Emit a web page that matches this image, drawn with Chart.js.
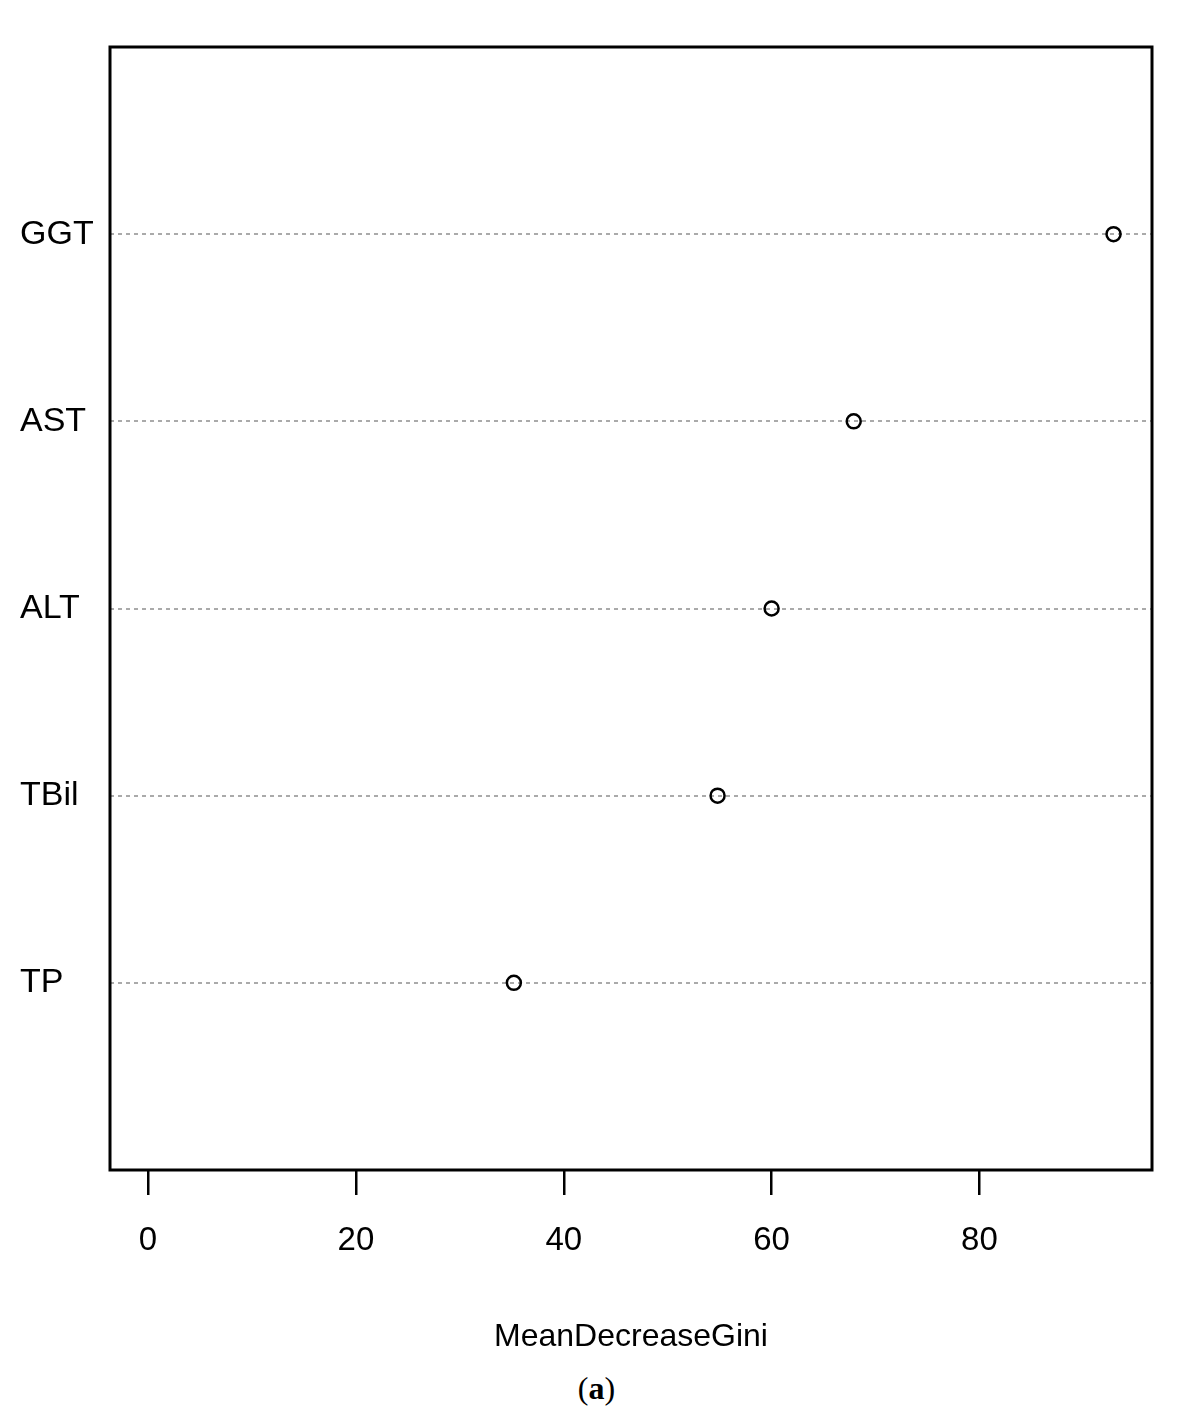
<!DOCTYPE html>
<html><head><meta charset="utf-8">
<script src="https://cdn.jsdelivr.net/npm/chart.js@4/dist/chart.umd.min.js"></script>
<style>
body{margin:0;background:#fff;}
#wrap{width:1193px;height:1360px;}
#cap{text-align:center;font-family:"Liberation Serif",serif;font-size:32px;margin-top:10px;}
</style></head><body>
<div id="wrap"><canvas id="c"></canvas></div>
<div id="cap">(<b>a</b>)</div>
<script>
const variables = ['TP', 'TBil', 'ALT', 'AST', 'GGT'];
const giniValues = [35.2, 54.8, 60.0, 67.9, 92.9];
const xTicks = [0, 20, 40, 60, 80];

const boxPlugin = {
  id: 'box',
  afterDraw(chart) {
    const a = chart.chartArea, g = chart.ctx;
    g.save();
    g.strokeStyle = '#000';
    g.lineWidth = 3;
    g.strokeRect(a.left, a.top, a.right - a.left, a.bottom - a.top);
    g.restore();
  }
};

new Chart(document.getElementById('c'), {
  type: 'scatter',
  data: {
    datasets: [{
      data: variables.map((v, i) => ({ x: giniValues[i], y: i + 1 })),
      pointRadius: 7,
      pointBorderWidth: 2.5,
      pointBorderColor: '#000',
      pointBackgroundColor: 'rgba(0,0,0,0)'
    }]
  },
  options: {
    responsive: true,
    maintainAspectRatio: false,
    animation: false,
    layout: { padding: { top: 47, right: 41, left: 20, bottom: 0 } },
    plugins: { legend: { display: false }, tooltip: { enabled: false } },
    scales: {
      x: {
        min: -3.66, max: 96.6,
        afterBuildTicks: s => { s.ticks = xTicks.map(v => ({ value: v })); },
        afterFit: s => { s.height = 190; },
        border: { display: false },
        grid: { drawOnChartArea: false, tickLength: 25, tickColor: '#000', lineWidth: 2.5 },
        ticks: { color: '#000', font: { family: 'Liberation Sans', size: 33 }, padding: 26 },
        title: { display: true, text: 'MeanDecreaseGini', color: '#000', font: { family: 'Liberation Sans', size: 32 }, padding: { top: 30 } }
      },
      y: {
        min: 0, max: 6,
        afterBuildTicks: s => { s.ticks = variables.map((v, i) => ({ value: i + 1 })); },
        afterFit: s => { s.width = 90; },
        border: { display: false, dash: [4, 4] },
        grid: { drawTicks: false, color: '#aaa', lineWidth: 2 },
        ticks: {
          color: '#000', crossAlign: 'far', padding: 20,
          font: { family: 'Liberation Sans', size: 34 },
          callback: v => variables[v - 1]
        }
      }
    }
  },
  plugins: [boxPlugin]
});
</script>
</body></html>
